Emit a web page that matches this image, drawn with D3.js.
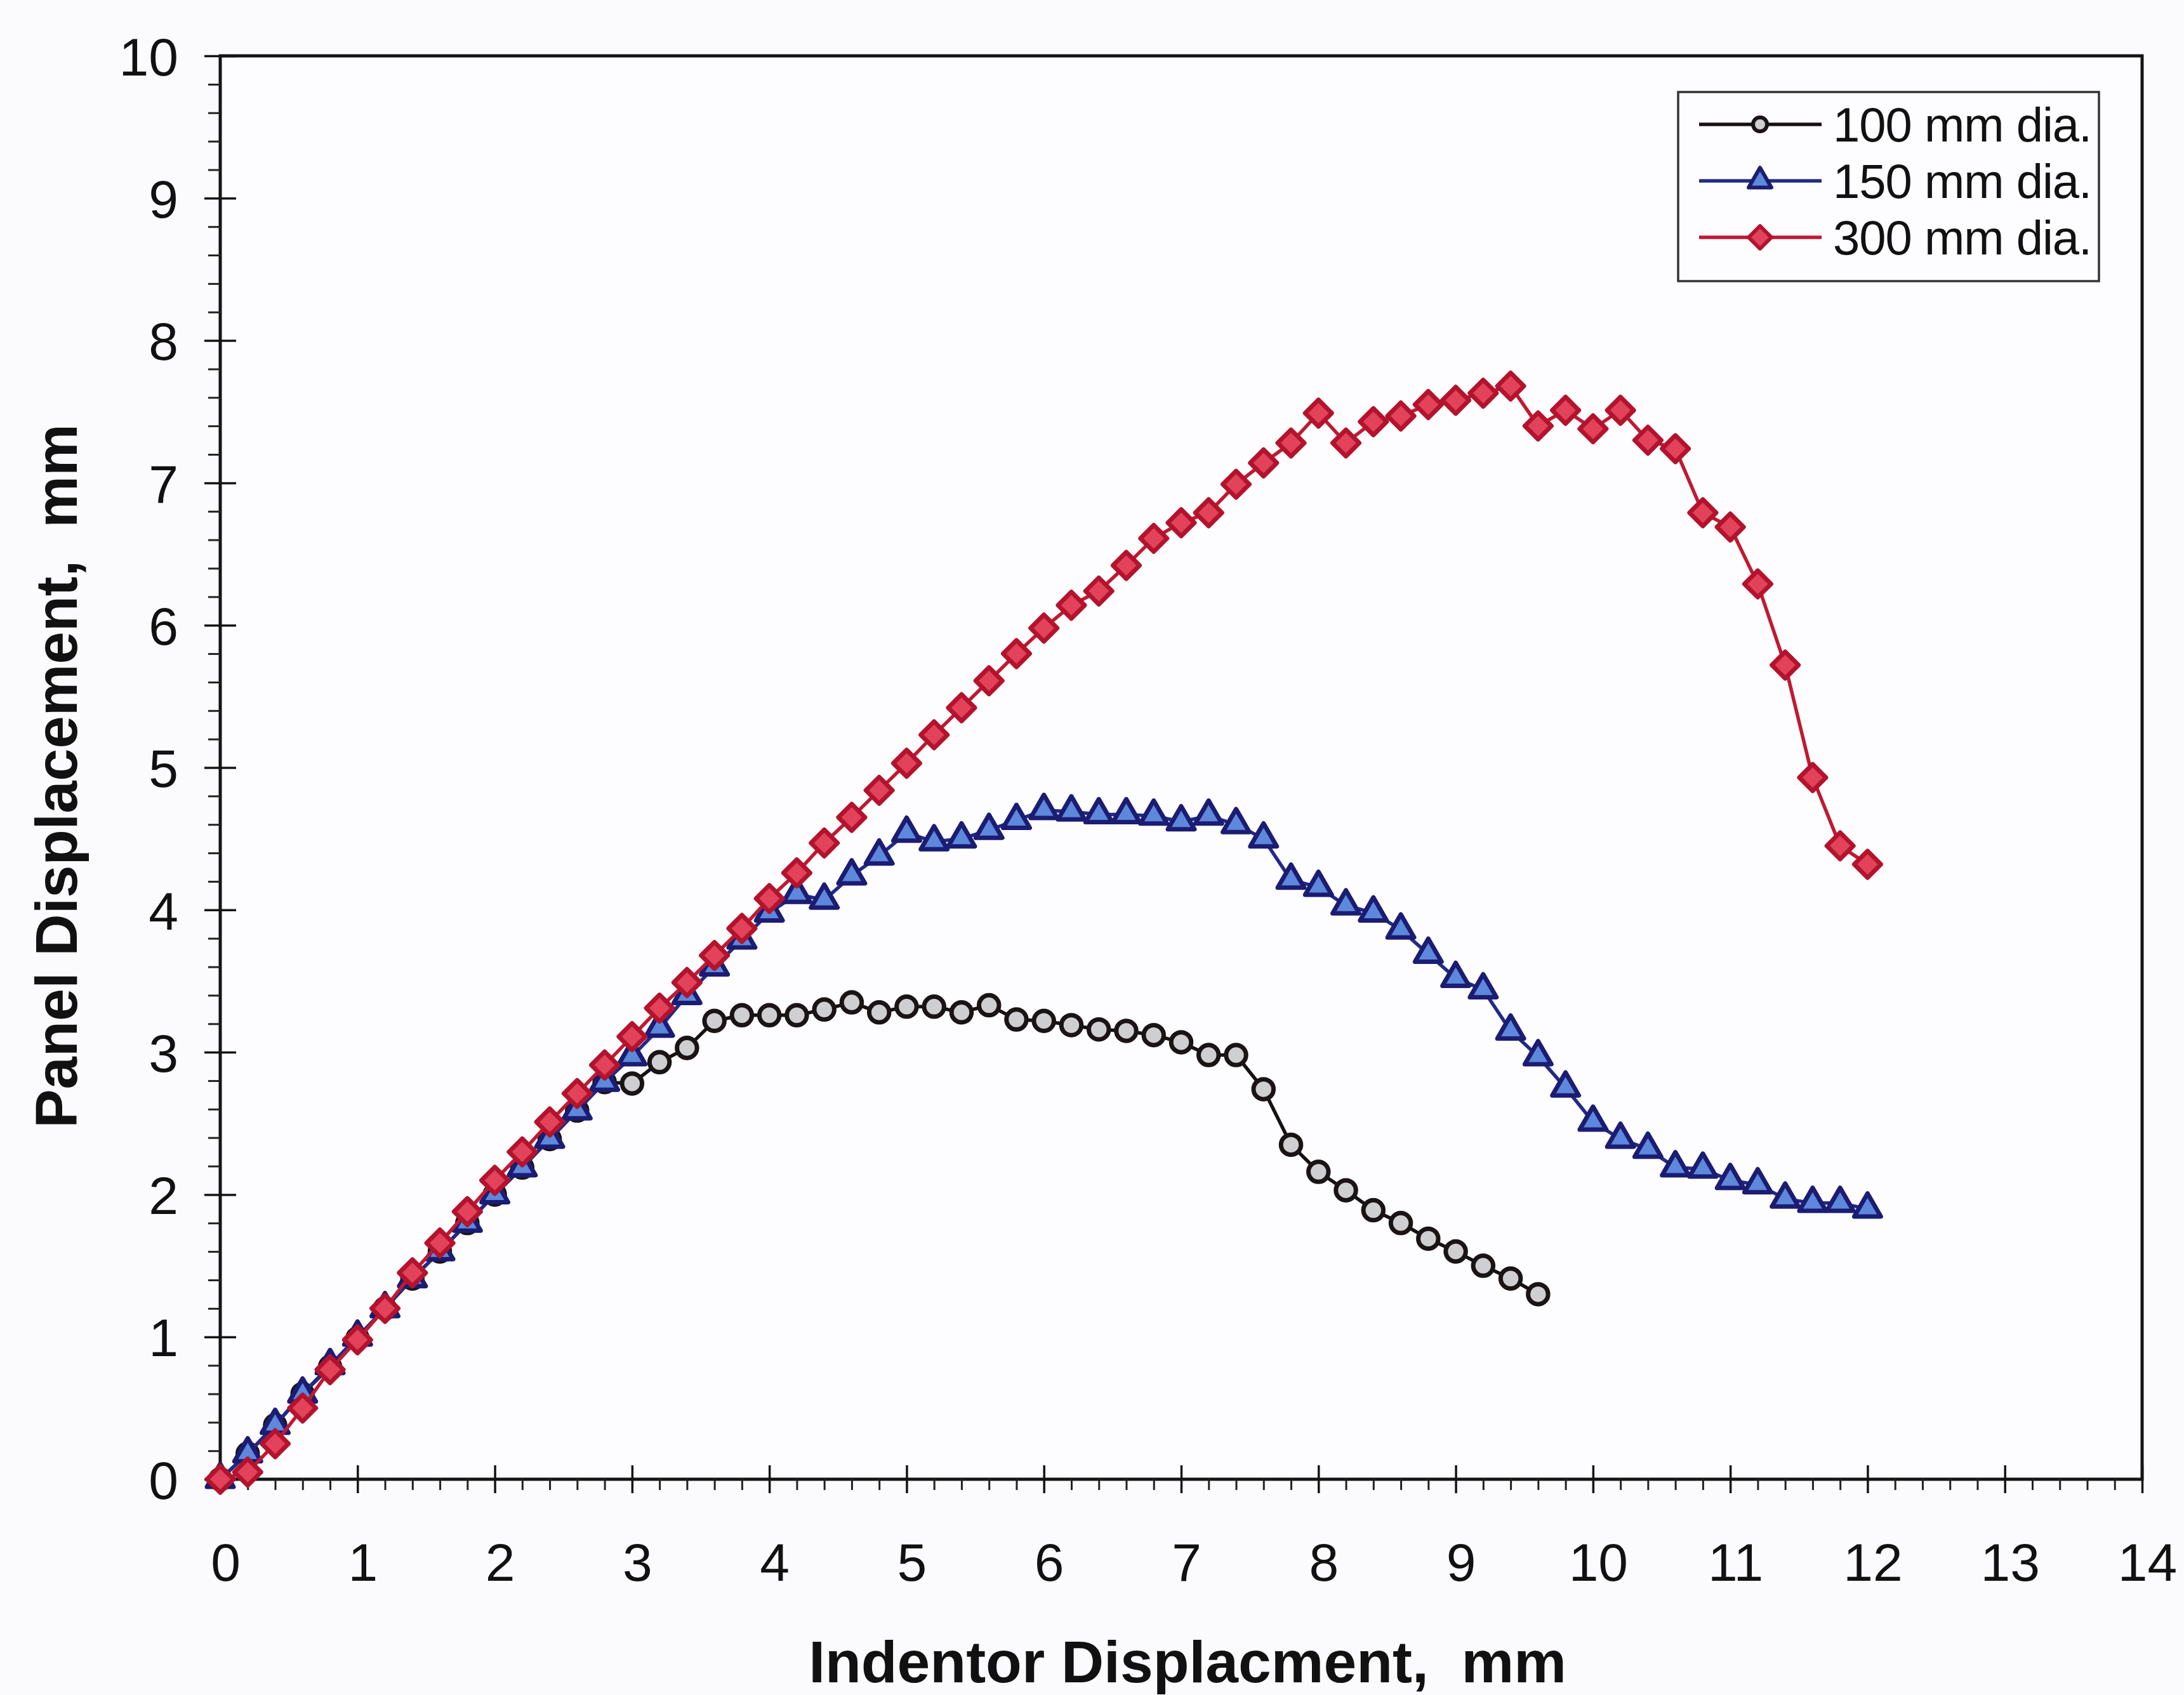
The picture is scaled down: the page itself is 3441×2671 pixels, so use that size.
<!DOCTYPE html>
<html>
<head>
<meta charset="utf-8">
<script src="https://cdn.jsdelivr.net/npm/d3@7"></script>
<style>
  html, body { margin: 0; padding: 0; background: #fbfbfd; }
  svg { display: block; font-family: "Liberation Sans", Arial, Helvetica, sans-serif; }
</style>
</head>
<body>
<svg id="chart" width="3441" height="2671"></svg>
<script>
// Indentor displacement (mm) at which each reading was taken
const indentor = [0, 0.2, 0.4, 0.6, 0.8, 1, 1.2, 1.4, 1.6, 1.8,
  2, 2.2, 2.4, 2.6, 2.8, 3, 3.2, 3.4, 3.6, 3.8,
  4, 4.2, 4.4, 4.6, 4.8, 5, 5.2, 5.4, 5.6, 5.8,
  6, 6.2, 6.4, 6.6, 6.8, 7, 7.2, 7.4, 7.6, 7.8,
  8, 8.2, 8.4, 8.6, 8.8, 9, 9.2, 9.4, 9.6, 9.8,
  10, 10.2, 10.4, 10.6, 10.8, 11, 11.2, 11.4, 11.6, 11.8, 12];

// Panel displacement (mm) for each panel diameter
const dia100 = [0, 0.18, 0.38, 0.60, 0.79, 0.99, 1.20, 1.41, 1.60, 1.80,
  2.00, 2.19, 2.39, 2.59, 2.79, 2.78, 2.93, 3.03, 3.22, 3.26,
  3.26, 3.26, 3.30, 3.35, 3.28, 3.32, 3.32, 3.28, 3.33, 3.23,
  3.22, 3.19, 3.16, 3.15, 3.12, 3.07, 2.98, 2.98, 2.74, 2.35,
  2.16, 2.03, 1.89, 1.80, 1.69, 1.60, 1.50, 1.41, 1.30];

const dia150 = [0, 0.18, 0.38, 0.60, 0.80, 1.00, 1.20, 1.41, 1.60, 1.80,
  2.00, 2.19, 2.39, 2.59, 2.79, 2.97, 3.17, 3.40, 3.60, 3.79,
  3.98, 4.11, 4.07, 4.24, 4.38, 4.54, 4.48, 4.50, 4.56, 4.63,
  4.70, 4.69, 4.67, 4.67, 4.66, 4.62, 4.66, 4.60, 4.50, 4.21,
  4.16, 4.03, 3.98, 3.86, 3.69, 3.52, 3.44, 3.15, 2.97, 2.75,
  2.51, 2.39, 2.32, 2.19, 2.18, 2.10, 2.07, 1.97, 1.94, 1.94, 1.90];

const dia300 = [0, 0.05, 0.25, 0.50, 0.77, 0.98, 1.20, 1.45, 1.66, 1.88,
  2.10, 2.30, 2.51, 2.71, 2.91, 3.11, 3.31, 3.49, 3.68, 3.87,
  4.08, 4.26, 4.47, 4.65, 4.84, 5.03, 5.23, 5.42, 5.61, 5.80,
  5.98, 6.14, 6.24, 6.42, 6.61, 6.72, 6.79, 6.99, 7.14, 7.28,
  7.49, 7.28, 7.43, 7.47, 7.55, 7.58, 7.63, 7.68, 7.40, 7.51,
  7.38, 7.51, 7.30, 7.24, 6.79, 6.69, 6.29, 5.72, 4.93, 4.45, 4.32];

const seriesNames = ["100 mm dia.", "150 mm dia.", "300 mm dia."];
const xTickLabels = [0, 1, 2, 3, 4, 5, 6, 7, 8, 9, 10, 11, 12, 13, 14];
const yTickLabels = [0, 1, 2, 3, 4, 5, 6, 7, 8, 9, 10];
const xTitle = "Indentor Displacment,  mm";
const yTitle = "Panel Displacement,  mm";

// ---- layout ----
const plot = { left: 347, right: 3375, top: 88, bottom: 2331 };
const svg = d3.select("#chart");

const x = d3.scaleLinear().domain([0, 14]).range([plot.left, plot.right]);
const y = d3.scaleLinear().domain([0, 10]).range([plot.bottom, plot.top]);

// plot area
svg.append("rect")
  .attr("x", plot.left).attr("y", plot.top)
  .attr("width", plot.right - plot.left).attr("height", plot.bottom - plot.top)
  .attr("fill", "#fdfdff").attr("stroke", "#141414").attr("stroke-width", 5);

// ---- x axis: majors cross the axis line, minors hang below ----
const xMinor = d3.range(0, 14.001, 0.2).filter(v => Math.abs(v - Math.round(v)) > 1e-6);
const gxMinor = svg.append("g")
  .attr("transform", `translate(0,${plot.bottom})`)
  .call(d3.axisBottom(x).tickValues(xMinor).tickSize(17).tickFormat(""));
gxMinor.select(".domain").remove();
gxMinor.selectAll(".tick line").attr("stroke", "#222").attr("stroke-width", 3);

const gx = svg.append("g")
  .attr("transform", `translate(0,${plot.bottom})`)
  .call(d3.axisBottom(x).tickValues(xTickLabels).tickSize(22).tickFormat(d3.format("d")));
gx.attr("font-size", null).attr("font-family", null);
gx.select(".domain").remove();
gx.selectAll(".tick line").attr("y1", -22).attr("y2", 22)
  .attr("stroke", "#141414").attr("stroke-width", 3.5);
gx.selectAll(".tick text").attr("x", 8).attr("y", 160).attr("dy", null)
  .attr("font-size", 84).attr("fill", "#111");

// ---- y axis ----
const yMinor = d3.range(0, 10.001, 0.2).filter(v => Math.abs(v - Math.round(v)) > 1e-6);
const gyMinor = svg.append("g")
  .attr("transform", `translate(${plot.left},0)`)
  .call(d3.axisLeft(y).tickValues(yMinor).tickSize(19).tickFormat(""));
gyMinor.select(".domain").remove();
gyMinor.selectAll(".tick line").attr("stroke", "#222").attr("stroke-width", 3);

const gy = svg.append("g")
  .attr("transform", `translate(${plot.left},0)`)
  .call(d3.axisLeft(y).tickValues(yTickLabels).tickSize(25).tickFormat(d3.format("d")));
gy.attr("font-size", null).attr("font-family", null);
gy.select(".domain").remove();
gy.selectAll(".tick line").attr("x1", -25).attr("x2", 25)
  .attr("stroke", "#141414").attr("stroke-width", 3.5);
gy.selectAll(".tick text").attr("x", -66).attr("dy", "0.36em")
  .attr("font-size", 84).attr("fill", "#111");

// ---- axis titles ----
svg.append("text")
  .attr("x", 1871).attr("y", 2651)
  .attr("text-anchor", "middle").attr("font-weight", "bold").attr("font-size", 93)
  .attr("fill", "#111").style("white-space", "pre")
  .text(xTitle);

svg.append("text")
  .attr("transform", "translate(121,1223) rotate(-90)")
  .attr("text-anchor", "middle").attr("font-weight", "bold").attr("font-size", 92)
  .attr("fill", "#111").style("white-space", "pre")
  .text(yTitle);

// ---- series ----
const series = [
  { name: seriesNames[0], values: dia100, line: "#161212", stroke: "#1a1414", fill: "#cfcfd2",
    symbol: d3.symbolCircle, size: 780, legendSize: 380, rotate: 0 },
  { name: seriesNames[1], values: dia150, line: "#222a86", stroke: "#1b1c72", fill: "#5d88dc",
    symbol: d3.symbolTriangle, size: 760, legendSize: 560, rotate: 0 },
  { name: seriesNames[2], values: dia300, line: "#bf1a31", stroke: "#b3132c", fill: "#e2435b",
    symbol: d3.symbolSquare, size: 880, legendSize: 640, rotate: 45 }
];

const lineGen = d3.line().x(d => x(d[0])).y(d => y(d[1]));

series.forEach(s => {
  const pts = s.values.map((v, i) => [indentor[i], v]);
  const g = svg.append("g");
  g.append("path").datum(pts)
    .attr("d", lineGen).attr("fill", "none")
    .attr("stroke", s.line).attr("stroke-width", 5.5).attr("stroke-linejoin", "round");
  g.selectAll("path.marker").data(pts).join("path")
    .attr("class", "marker")
    .attr("d", d3.symbol().type(s.symbol).size(s.size))
    .attr("transform", d => `translate(${x(d[0])},${y(d[1])}) rotate(${s.rotate})`)
    .attr("fill", s.fill).attr("stroke", s.stroke).attr("stroke-width", 7)
    .attr("stroke-linejoin", "round");
});

// ---- legend ----
const legend = svg.append("g");
legend.append("rect")
  .attr("x", 2644).attr("y", 145).attr("width", 663).attr("height", 298)
  .attr("fill", "#fdfdff").attr("stroke", "#333").attr("stroke-width", 3.5);
const rowY = [196, 285, 374];
series.forEach((s, i) => {
  const row = legend.append("g").attr("transform", `translate(0,${rowY[i]})`);
  row.append("line").attr("x1", 2677).attr("x2", 2870).attr("y1", 0).attr("y2", 0)
    .attr("stroke", s.line).attr("stroke-width", 5.5);
  row.append("path")
    .attr("d", d3.symbol().type(s.symbol).size(s.legendSize))
    .attr("transform", `translate(2773,0) rotate(${s.rotate})`)
    .attr("fill", s.fill).attr("stroke", s.stroke).attr("stroke-width", 6)
    .attr("stroke-linejoin", "round");
  row.append("text").attr("x", 2888).attr("y", 0).attr("dy", "0.36em")
    .attr("font-size", 76).attr("fill", "#111").attr("letter-spacing", -1)
    .text(s.name);
});
</script>
</body>
</html>
